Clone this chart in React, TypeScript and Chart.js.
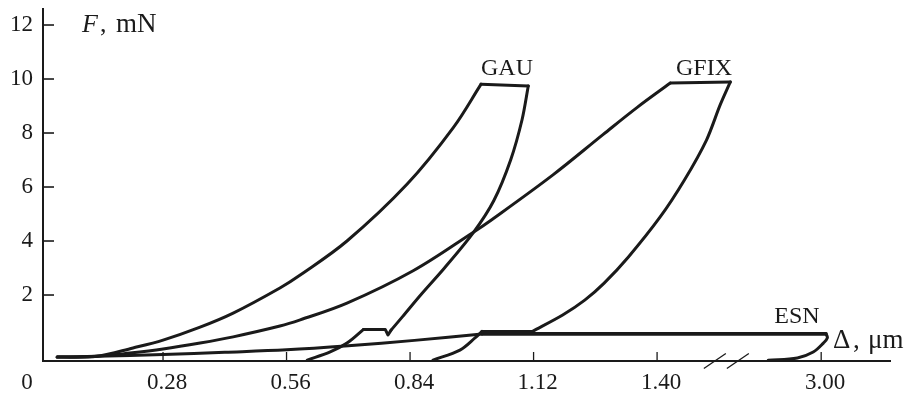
import React, { useEffect, useRef } from "react";
import { Chart, registerables } from "chart.js";

Chart.register(...registerables);

// ---------- axis ticks ----------
// x axis (Δ, µm) is broken between 1.40 and 3.00
const xTickValues = [0.28, 0.56, 0.84, 1.12, 1.4, 3.0];
const xTickLabels = ["0.28", "0.56", "0.84", "1.12", "1.40", "3.00"];
const yTickValues = [2, 4, 6, 8, 10, 12];

const BREAK_FROM = 1.6; // µm: values above this are drawn after the break
const BREAK_SHIFT = 1.228; // µm removed by the axis break
const BREAK_MARK_AT = 1.557; // axis position of the "//" marks

// ---------- GAU ----------
const gauLoadX = [0.04, 0.13, 0.212, 0.28, 0.364, 0.439, 0.545, 0.591, 0.697, 0.833, 0.938, 1.001];
const gauLoadF = [-0.3, -0.27, 0.04, 0.33, 0.81, 1.33, 2.26, 2.74, 4.0, 6.1, 8.2, 9.81];
const gauTopX = [1.001, 1.108];
const gauTopF = [9.81, 9.74];
const gauUnloadX = [1.108, 1.094, 1.068, 1.03, 0.983, 0.918, 0.864, 0.823, 0.797];
const gauUnloadF = [9.74, 8.5, 7.0, 5.5, 4.3, 3.0, 2.0, 1.2, 0.7];
const gauStepX = [0.797, 0.79, 0.784, 0.734];
const gauStepF = [0.7, 0.52, 0.72, 0.72];
const gauTailX = [0.734, 0.697, 0.659, 0.607];
const gauTailF = [0.72, 0.22, -0.11, -0.41];

// ---------- GFIX ----------
const gfixLoadX = [0.04, 0.13, 0.205, 0.28, 0.364, 0.439, 0.545, 0.591, 0.697, 0.847, 0.981, 1.026, 1.164, 1.278, 1.355, 1.43];
const gfixLoadF = [-0.3, -0.27, -0.15, 0.0, 0.22, 0.45, 0.85, 1.08, 1.7, 2.9, 4.3, 4.8, 6.45, 7.95, 8.95, 9.85];
const gfixTopX = [1.43, 1.566];
const gfixTopF = [9.85, 9.89];
const gfixUnloadX = [1.566, 1.543, 1.512, 1.462, 1.407, 1.335, 1.28, 1.236, 1.186, 1.117];
const gfixUnloadF = [9.89, 9.04, 7.74, 6.26, 4.89, 3.41, 2.44, 1.81, 1.26, 0.65];
const gfixStepX = [1.117, 1.003];
const gfixStepF = [0.65, 0.65];
const gfixTailX = [1.003, 0.988, 0.953, 0.892];
const gfixTailF = [0.65, 0.42, -0.04, -0.41];

// ---------- ESN ----------
const esnLoadX = [0.04, 0.13, 0.28, 0.42, 0.56, 0.7, 0.85, 1.003];
const esnLoadF = [-0.3, -0.27, -0.2, -0.12, -0.03, 0.12, 0.32, 0.56];
const esnTopX = [1.003, 3.011];
const esnTopF = [0.56, 0.56];
const esnUnloadX = [3.011, 3.014, 3.005, 2.982, 2.946, 2.88];
const esnUnloadF = [0.56, 0.41, 0.22, -0.11, -0.33, -0.42];

const SERIF = '"Liberation Serif", "Times New Roman", Times, serif';
const INK = "#1a1a1a";

const toAxis = (v: number) => (v > BREAK_FROM ? v - BREAK_SHIFT : v);

type Seg = { xs: number[]; fs: number[]; tension: number; width?: number };

const segments: Seg[] = [
  { xs: gauLoadX, fs: gauLoadF, tension: 0.35 },
  { xs: gauTopX, fs: gauTopF, tension: 0 },
  { xs: gauUnloadX, fs: gauUnloadF, tension: 0.3 },
  { xs: gauStepX, fs: gauStepF, tension: 0 },
  { xs: gauTailX, fs: gauTailF, tension: 0.35 },
  { xs: gfixLoadX, fs: gfixLoadF, tension: 0.35 },
  { xs: gfixTopX, fs: gfixTopF, tension: 0 },
  { xs: gfixUnloadX, fs: gfixUnloadF, tension: 0.3 },
  { xs: gfixStepX, fs: gfixStepF, tension: 0 },
  { xs: gfixTailX, fs: gfixTailF, tension: 0.35 },
  { xs: esnLoadX, fs: esnLoadF, tension: 0.35 },
  { xs: esnTopX, fs: esnTopF, tension: 0, width: 3.6 },
  { xs: esnUnloadX, fs: esnUnloadF, tension: 0.35 },
];

const decorPlugin = {
  id: "decor",
  afterDraw(chart: any) {
    const { ctx } = chart;
    const x = chart.scales.x;
    const y = chart.scales.y;
    ctx.save();
    ctx.strokeStyle = INK;
    ctx.lineCap = "butt";

    // inward y tick marks
    ctx.lineWidth = 1.6;
    y.ticks.forEach((t: any) => {
      const py = y.getPixelForValue(t.value);
      ctx.beginPath();
      ctx.moveTo(x.left, py);
      ctx.lineTo(x.left + 11, py);
      ctx.stroke();
    });

    // upward x tick marks
    ctx.lineWidth = 1.3;
    x.ticks.forEach((t: any) => {
      const px = x.getPixelForValue(t.value);
      ctx.beginPath();
      ctx.moveTo(px, y.bottom);
      ctx.lineTo(px, y.bottom - 9);
      ctx.stroke();
    });

    // axis break marks
    const bx = x.getPixelForValue(BREAK_MARK_AT);
    ctx.lineWidth = 1.3;
    [-11.5, 11.5].forEach((o) => {
      ctx.beginPath();
      ctx.moveTo(bx + o - 11, y.bottom + 7.5);
      ctx.lineTo(bx + o + 11, y.bottom - 7.5);
      ctx.stroke();
    });

    // texts
    ctx.fillStyle = INK;
    ctx.textBaseline = "alphabetic";
    ctx.textAlign = "left";
    ctx.font = `italic 26px ${SERIF}`;
    ctx.fillText("F", 82, 32);
    ctx.font = `26px ${SERIF}`;
    ctx.fillText(",", 100, 32);
    ctx.font = `27px ${SERIF}`;
    ctx.fillText("mN", 116, 32);

    ctx.font = `24px ${SERIF}`;
    ctx.textAlign = "center";
    ctx.fillText("GAU", 507, 75);
    ctx.fillText("GFIX", 704, 75);
    ctx.fillText("ESN", 797, 323);

    ctx.textAlign = "left";
    ctx.font = `27px ${SERIF}`;
    ctx.fillText("\u0394", 833, 348);
    ctx.fillText(",", 853, 348);
    ctx.fillText("\u03bcm", 868, 348);

    ctx.font = `23px ${SERIF}`;
    ctx.textAlign = "center";
    ctx.textBaseline = "middle";
    ctx.fillText("0", 27, y.bottom + 8 + 13.8);
    ctx.restore();
  },
};

export default function App() {
  const ref = useRef<HTMLCanvasElement | null>(null);

  useEffect(() => {
    if (!ref.current) return;
    const datasets = segments.map((s) => ({
      data: s.xs.map((v, i) => ({ x: toAxis(v), y: s.fs[i] })),
      borderColor: INK,
      borderWidth: s.width ?? 3,
      pointRadius: 0,
      tension: s.tension,
      fill: false,
      borderCapStyle: "round" as const,
      borderJoinStyle: "round" as const,
    }));

    const chart = new Chart(ref.current, {
      type: "line",
      data: { datasets },
      options: {
        animation: false,
        responsive: false,
        devicePixelRatio: 1,
        events: [],
        layout: { padding: { top: 9, right: 22, left: 0, bottom: 0 } },
        plugins: { legend: { display: false }, tooltip: { enabled: false } },
        scales: {
          x: {
            type: "linear",
            min: 0.0079,
            max: 1.928,
            afterBuildTicks: (s: any) => {
              s.ticks = xTickValues.map((v) => ({ value: toAxis(v) }));
            },
            afterFit: (s: any) => {
              s.height = 35;
              s.paddingLeft = 0;
              s.paddingRight = 0;
            },
            ticks: {
              autoSkip: false,
              maxRotation: 0,
              padding: 8,
              labelOffset: 4,
              color: INK,
              font: { family: SERIF, size: 23 },
              callback: (_v: any, i: number) => xTickLabels[i],
            },
            grid: { display: false, drawTicks: false },
            border: { display: true, color: INK, width: 2 },
          },
          y: {
            type: "linear",
            min: -0.444,
            max: 12.593,
            afterBuildTicks: (s: any) => {
              s.ticks = yTickValues.map((v) => ({ value: v }));
            },
            afterFit: (s: any) => {
              s.width = 43;
              s.paddingTop = 0;
              s.paddingBottom = 0;
            },
            ticks: {
              autoSkip: false,
              padding: 10,
              color: INK,
              font: { family: SERIF, size: 23 },
              callback: (v: any) => String(v),
            },
            grid: { display: false, drawTicks: false },
            border: { display: true, color: INK, width: 2 },
          },
        },
      },
      plugins: [decorPlugin],
    });
    return () => chart.destroy();
  }, []);

  return (
    <div style={{ position: "absolute", left: 0, top: 0, width: 912, height: 396, background: "#fff" }}>
      <canvas ref={ref} width={912} height={396} style={{ display: "block" }} />
    </div>
  );
}
